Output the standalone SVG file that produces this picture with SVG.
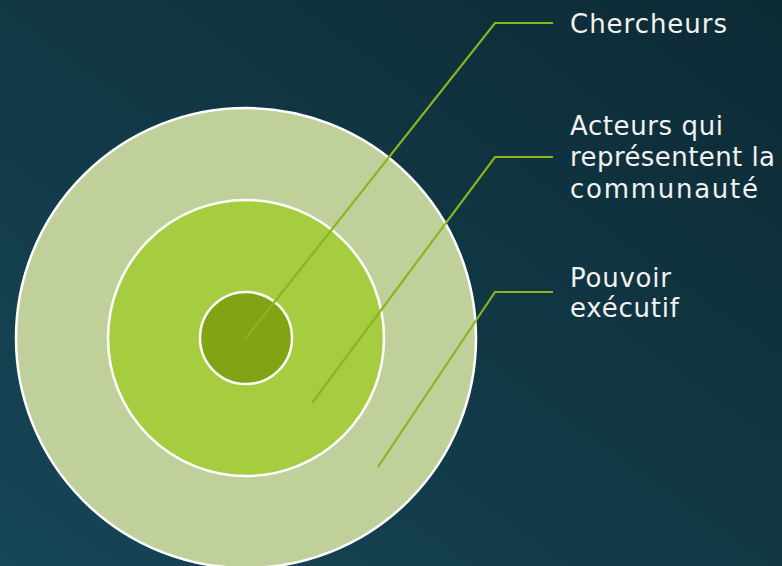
<svg xmlns="http://www.w3.org/2000/svg" width="782" height="566" viewBox="0 0 782 566">
<defs>
<linearGradient id="bg" x1="1" y1="0" x2="0" y2="1">
<stop offset="0" stop-color="#0d2a34"/>
<stop offset="1" stop-color="#164657"/>
</linearGradient>
<style>
.ring{stroke:#ffffff;stroke-width:2.5}
.conn{fill:none;stroke:#8db41e;stroke-width:2.2;stroke-linejoin:miter}
.lbl{font-family:"DejaVu Sans","Liberation Sans",sans-serif;font-size:26px;fill:#f2f2f2}
</style>
</defs>
<rect width="782" height="566" fill="url(#bg)"/>
<g id="outer"><circle class="ring" cx="246" cy="338" r="230" fill="#bfd09b"/></g>
<g id="middle"><circle class="ring" cx="246" cy="338" r="138" fill="#a5cd3f"/></g>
<g id="inner"><circle class="ring" cx="246" cy="338" r="46" fill="#82a313"/></g>
<g id="connectors">
<polyline class="conn" points="246,338 495,23 553,23"/>
<polyline class="conn" points="312,403 495,157 553,157"/>
<polyline class="conn" points="378,467 495,292 553,292"/>
</g>
<g id="label-chercheurs"><text class="lbl" x="570" y="33" textLength="157" lengthAdjust="spacing">Chercheurs</text></g>
<g id="label-acteurs">
<text class="lbl" x="570" y="135" textLength="153" lengthAdjust="spacing">Acteurs qui</text>
<text class="lbl" x="570" y="166" textLength="205" lengthAdjust="spacing">représentent la</text>
<text class="lbl" x="570" y="198" textLength="188" lengthAdjust="spacing">communauté</text>
</g>
<g id="label-pouvoir">
<text class="lbl" x="570" y="287" textLength="101" lengthAdjust="spacing">Pouvoir</text>
<text class="lbl" x="570" y="317" textLength="109" lengthAdjust="spacing">exécutif</text>
</g>
</svg>
